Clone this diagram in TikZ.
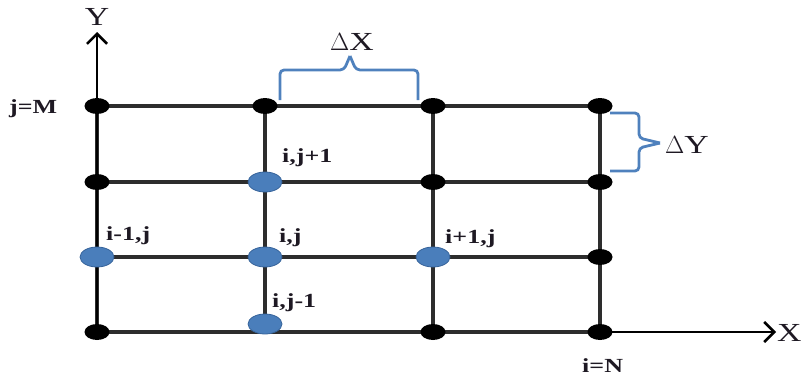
\documentclass[tikz,border=0pt]{standalone}
\usepackage{fontspec}
\setmainfont[FakeStretch=1.3]{Liberation Serif}
\usetikzlibrary{shapes.geometric,arrows.meta}
\definecolor{gridline}{RGB}{45,45,45}
\definecolor{nodeblue}{RGB}{74,126,187}
\definecolor{nodeblueedge}{RGB}{55,100,155}
\definecolor{bracecol}{RGB}{79,129,189}
\definecolor{labelcol}{RGB}{30,25,35}
\tikzset{
  gridln/.style={draw=gridline, line width=3.4pt},
  axisln/.style={draw=black, line width=2.6pt, -{Straight Barb[length=10pt,width=20pt,line width=2.6pt]}},
  blackdot/.style={ellipse, fill=black, minimum width=25pt, minimum height=16pt, inner sep=0pt},
  bluedot/.style={ellipse, fill=nodeblue, draw=nodeblueedge, line width=0.8pt, minimum width=34pt, minimum height=20pt, inner sep=0pt},
  idx/.style={text=labelcol, font=\fontsize{20}{20}\selectfont\bfseries, inner sep=0pt, anchor=base west},
  axlabel/.style={text=labelcol, font=\fontsize{26}{26}\selectfont, inner sep=0pt, anchor=base west},
  bracestroke/.style={draw=bracecol, line width=2.8pt, rounded corners=4pt},
}
\begin{document}
\begin{tikzpicture}[x=1pt,y=-1pt]
\useasboundingbox (0,0) rectangle (806,380);

% grid points: columns c1..c4, rows r1 (top) .. r4 (bottom)
\coordinate (a11) at (97,106);  \coordinate (a12) at (265,106);
\coordinate (a13) at (433,106); \coordinate (a14) at (600,106);
\coordinate (a21) at (97,182);  \coordinate (a22) at (265,182);
\coordinate (a23) at (433,182); \coordinate (a24) at (600,182);
\coordinate (a31) at (97,257);  \coordinate (a32) at (265,257);
\coordinate (a33) at (433,257); \coordinate (a34) at (600,257);
\coordinate (a41) at (97,332);  \coordinate (a42) at (265,332);
\coordinate (a43) at (433,332); \coordinate (a44) at (600,332);
\coordinate (yend) at (97,32);
\coordinate (xend) at (776,332);

% mesh lines
\foreach \r in {1,2,3,4} {\draw[gridln] (a\r1) -- (a\r4);}
\foreach \c in {1,2,3,4} {\draw[gridln] (a1\c) -- (a4\c);}

% axes
\draw[axisln] (a41) -- (yend);
\draw[axisln] (a44) -- (xend);

% grid nodes
\foreach \p in {11,12,13,14,21,23,24,34,41,43,44} {\node[blackdot] (d\p) at (a\p) {};}
\node[bluedot] (nij1) at (a22) {};
\node[bluedot] (nim) at (a31) {};
\node[bluedot] (nij) at (a32) {};
\node[bluedot] (nip) at (a33) {};
\node[bluedot] (nijm) at (265,324) {};

% node labels
\node[idx] (lij1) at (282,162) {i,j+1};
\node[idx] (lim)  at (106,240) {i-1,j};
\node[idx] (lij)  at (279,242) {i,j};
\node[idx] (lip)  at (445,243) {i+1,j};
\node[idx] (lijm) at (272,307) {i,j-1};
\node[idx] (ljm) at (9,113) {j=M};
\node[idx] (lin) at (582,372) {i=N};

% axis labels
\node[axlabel, anchor=base] (ly) at (97,25) {Y};
\node[axlabel] (lx) at (777,341) {X};

% spacing braces
\draw[bracestroke] (280,100) -- (280,70) -- (344,70) -- (350,56);
\draw[bracestroke] (418,100) -- (418,70) -- (356,70) -- (350,56);
\node[axlabel] (ldx) at (330,50) {$\Delta$X};
\draw[bracestroke] (610,113) -- (639,113) -- (639,138) -- (660,143);
\draw[bracestroke] (610,171) -- (639,171) -- (639,148) -- (660,143);
\node[axlabel] (ldy) at (665,153) {$\Delta$Y};
\end{tikzpicture}
\end{document}
